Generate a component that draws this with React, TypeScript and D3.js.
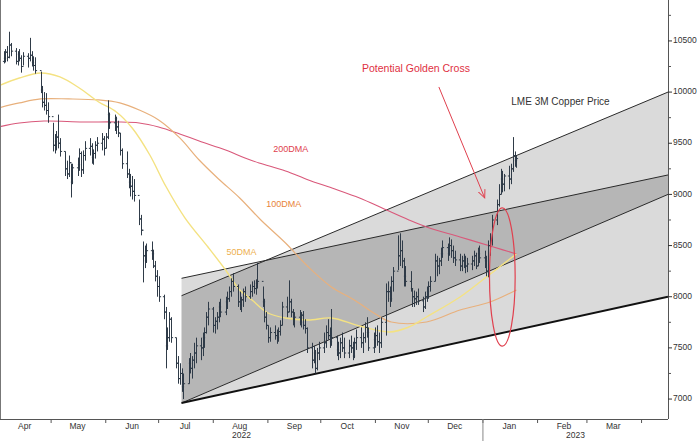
import * as d3 from "d3";

const WIDTH = 700;
const HEIGHT = 441;
const PLOT = { left: 0, right: 668, top: 0, bottom: 419 };

// daily LME 3M copper bars (weekdays from 4 Apr 2022)
const FIRST_BAR = "2022-04-04";
const highs = [
  // Apr
  10400, 10420, 10450, 10590, 10480, 10430, 10400, 10420, 10360, 10390, 10380, 10530, 10400, 10350, 10340, 10200, 10060, 10000, 9990, 9900,
  // May
  9700, 9590, 9620, 9780, 9550, 9420, 9330, 9380, 9300, 9300, 9360, 9450, 9420, 9430, 9520, 9550, 9500, 9440, 9520, 9560, 9600, 9570,
  // Jun
  9600, 9920, 9800, 9780, 9760, 9720, 9600, 9450, 9420, 9250, 9200, 9180, 9150, 8950, 8800, 8540, 8500, 8520, 8540, 8460, 8350, 8260,
  // Jul
  8200, 8020, 7900, 7700, 7850, 7800, 7600, 7420, 7350, 7300, 7250, 7400, 7450, 7420, 7550, 7600, 7600, 7650, 7700, 7850, 7950,
  // Aug
  7900, 7800, 7850, 7950, 7980, 8000, 8050, 8100, 8180, 8230, 8120, 8050, 8000, 8080, 8100, 8120, 8150, 8160, 8170, 8330, 8100, 7980, 7850,
  // Sep
  7720, 7700, 7720, 7680, 7700, 7770, 7950, 8000, 8160, 7980, 7880, 7850, 7870, 7850, 7860, 7780, 7700, 7550, 7520, 7480, 7500, 7560,
  // Oct
  7650, 7720, 7780, 7700, 7880, 7620, 7560, 7600, 7650, 7600, 7580, 7620, 7560, 7600, 7680, 7700, 7650, 7750, 7800, 7700, 7650,
  // Nov
  7700, 7720, 7650, 7800, 8130, 8150, 8100, 8200, 8290, 8600, 8620, 8550, 8380, 8300, 8250, 8080, 8060, 8050, 8080, 8000, 8050, 8100,
  // Dec
  8150, 8200, 8420, 8400, 8380, 8480, 8550, 8520, 8580, 8560, 8500, 8450, 8420, 8400, 8420, 8400, 8380, 8400, 8450, 8430, 8480, 8500,
  // Jan
  8450, 8400, 8550, 8620, 8800, 8950, 9100, 9250, 9230, 9200, 9280, 9300, 9560, 9420, 9380,
];
const lows = [
  10280, 10290, 10300, 10330, 10350, 10270, 10260, 10300, 10190, 10260, 10240, 10300, 10250, 10210, 10180, 9990, 9850, 9820, 9780, 9700,
  9420, 9400, 9430, 9450, 9370, 9180, 9150, 9170, 8970, 9100, 9180, 9230, 9170, 9200, 9330, 9380, 9300, 9290, 9350, 9420, 9430, 9380,
  9450, 9540, 9640, 9620, 9590, 9560, 9380, 9250, 9160, 9060, 8980, 8950, 8930, 8700, 8600, 8140, 8280, 8330, 8360, 8280, 8150, 8000,
  7950, 7780, 7300, 7480, 7560, 7550, 7300, 7150, 7140, 7070, 7000, 7150, 7250, 7200, 7300, 7350, 7380, 7420, 7500, 7640, 7720,
  7650, 7640, 7680, 7750, 7800, 7820, 7880, 7950, 8000, 8050, 7900, 7870, 7850, 7900, 7950, 7980, 8000, 8030, 8020, 8080, 7900, 7750, 7680,
  7550, 7560, 7580, 7540, 7560, 7620, 7720, 7800, 7850, 7800, 7720, 7700, 7720, 7700, 7680, 7640, 7450, 7300, 7350, 7250, 7280, 7380,
  7450, 7500, 7580, 7500, 7520, 7420, 7380, 7400, 7460, 7400, 7400, 7450, 7380, 7400, 7480, 7500, 7450, 7550, 7600, 7470, 7450,
  7500, 7520, 7450, 7500, 7620, 7950, 7900, 7950, 8050, 8260, 8300, 8280, 8100, 8100, 8050, 7900, 7900, 7920, 7920, 7850, 7880, 7950,
  7980, 8050, 8150, 8200, 8220, 8300, 8380, 8350, 8400, 8380, 8330, 8300, 8250, 8250, 8280, 8230, 8240, 8260, 8300, 8270, 8300, 8330,
  8280, 8200, 8190, 8400, 8500, 8700, 8880, 9000, 9020, 9030, 9050, 9100, 9220, 9270, 9260,
];
const closes = [
  10330, 10390, 10340, 10460, 10400, 10300, 10370, 10330, 10250, 10350, 10330, 10360, 10290, 10260, 10210, 10020, 9900, 9870, 9820, 9760,
  9480, 9520, 9560, 9500, 9420, 9250, 9200, 9310, 9120, 9260, 9290, 9400, 9240, 9380, 9450, 9470, 9360, 9400, 9480, 9500, 9540, 9450,
  9560, 9780, 9700, 9740, 9660, 9600, 9430, 9300, 9200, 9120, 9080, 9030, 8990, 8760, 8650, 8400, 8350, 8450, 8420, 8300, 8200, 8100,
  8000, 7850, 7520, 7600, 7780, 7600, 7350, 7200, 7250, 7120, 7150, 7350, 7300, 7380, 7450, 7520, 7500, 7600, 7650, 7800, 7880,
  7720, 7760, 7800, 7900, 7850, 7950, 7980, 8050, 8150, 8100, 7950, 7920, 7970, 8050, 8000, 8050, 8100, 8080, 8130, 8150, 7950, 7800, 7720,
  7600, 7650, 7620, 7600, 7660, 7720, 7900, 7850, 7950, 7850, 7780, 7800, 7750, 7820, 7720, 7690, 7500, 7380, 7450, 7300, 7450, 7500,
  7550, 7650, 7620, 7560, 7600, 7480, 7450, 7550, 7500, 7450, 7520, 7500, 7420, 7550, 7600, 7550, 7600, 7700, 7650, 7500, 7580,
  7620, 7560, 7550, 7750, 8050, 8050, 7980, 8150, 8250, 8400, 8450, 8350, 8200, 8150, 8080, 8000, 7980, 8000, 7960, 7900, 8000, 8050,
  8100, 8150, 8350, 8300, 8350, 8420, 8480, 8420, 8500, 8450, 8380, 8360, 8300, 8350, 8380, 8300, 8320, 8350, 8400, 8300, 8420, 8380,
  8350, 8250, 8500, 8550, 8750, 8900, 9000, 9150, 9100, 9180, 9150, 9250, 9380, 9330, 9350,
];

// moving averages, read at sample dates
const ma50Dates = ["2022-04-01", "2022-04-13", "2022-04-25", "2022-05-06", "2022-05-17", "2022-05-28", "2022-06-07", "2022-06-16", "2022-06-26", "2022-07-05", "2022-07-16", "2022-07-29", "2022-08-08", "2022-08-16", "2022-08-23", "2022-09-01", "2022-09-11", "2022-09-24", "2022-10-07", "2022-10-23", "2022-11-09", "2022-11-20", "2022-11-30", "2022-12-19", "2023-01-03", "2023-01-20"];
const ma50Values = [10060, 10138, 10187, 10148, 10040, 9903, 9806, 9649, 9385, 9082, 8769, 8486, 8261, 8066, 7968, 7841, 7792, 7772, 7792, 7714, 7655, 7704, 7802, 7997, 8193, 8418];

const ma100Dates = ["2022-04-01", "2022-04-13", "2022-04-25", "2022-05-11", "2022-05-28", "2022-06-09", "2022-06-20", "2022-07-01", "2022-07-13", "2022-07-24", "2022-08-04", "2022-08-16", "2022-08-28", "2022-09-11", "2022-09-24", "2022-10-07", "2022-10-20", "2022-11-01", "2022-11-10", "2022-11-30", "2022-12-19", "2023-01-05", "2023-01-20"];
const ma100Values = [9845, 9894, 9933, 9933, 9923, 9894, 9825, 9728, 9552, 9336, 9151, 8965, 8750, 8525, 8290, 8095, 7968, 7831, 7753, 7753, 7870, 7948, 8066];

const ma200Dates = ["2022-04-01", "2022-04-13", "2022-04-27", "2022-05-19", "2022-06-07", "2022-06-20", "2022-07-01", "2022-07-13", "2022-07-24", "2022-08-08", "2022-08-19", "2022-08-27", "2022-09-11", "2022-09-24", "2022-10-09", "2022-10-23", "2022-11-06", "2022-11-20", "2022-11-30", "2022-12-19", "2023-01-07", "2023-01-20"];
const ma200Values = [9659, 9698, 9717, 9708, 9708, 9698, 9659, 9591, 9522, 9434, 9356, 9307, 9229, 9141, 9053, 8965, 8857, 8750, 8681, 8584, 8486, 8418];

// trend channel drawn from the July low
const channelDates = ["2022-07-14", "2023-04-16"];
const lowerLine = [6961, 8000];
const midLine = [6961, 9000];
const upperLine = [8010, 10000];
const topLine = [8180, 9190];

const yTicks = [7000, 7500, 8000, 8500, 9000, 9500, 10000, 10500];
const X_DOMAIN = ["2022-04-02", "2023-04-16"];
const Y_DOMAIN = [6805, 10900];

const parse = (s: string) => {
  const [yy, mm, dd] = s.split("-").map(Number);
  return new Date(yy, mm - 1, dd);
};

const barDates = (() => {
  const out: Date[] = [];
  let d = parse(FIRST_BAR);
  while (out.length < highs.length) {
    const wd = d.getDay();
    if (wd !== 0 && wd !== 6) out.push(d);
    d = d3.timeDay.offset(d, 1);
  }
  return out;
})();

export default function App() {
  const x = d3.scaleTime().domain(X_DOMAIN.map(parse)).range([PLOT.left, PLOT.right]);
  const y = d3.scaleLinear().domain(Y_DOMAIN).range([PLOT.bottom, PLOT.top]);

  const line = d3
    .line<[Date, number]>()
    .x((d) => x(d[0]))
    .y((d) => y(d[1]))
    .curve(d3.curveCatmullRom);

  const maPath = (dates: string[], vals: number[]) =>
    line(dates.map((s, i) => [parse(s), vals[i]] as [Date, number])) || "";

  const c0 = parse(channelDates[0]);
  const c1 = parse(channelDates[1]);
  const pt = (d: Date, v: number) => `${x(d)},${y(v)}`;

  const lightA = [pt(c0, lowerLine[0]), pt(c0, topLine[0]), pt(c1, topLine[1]), pt(c1, lowerLine[1])].join(" ");
  const lightB = [pt(c0, lowerLine[0]), pt(c0, upperLine[0]), pt(c1, upperLine[1]), pt(c1, lowerLine[1])].join(" ");
  const darkPoly = [pt(c0, midLine[0]), pt(c0, upperLine[0]), pt(c1, upperLine[1]), pt(c1, midLine[1])].join(" ");
  const darkClip = [pt(c0, midLine[0]), pt(c0, topLine[0]), pt(c1, topLine[1]), pt(c1, midLine[1])].join(" ");

  const months = d3.timeMonth.range(parse("2022-04-01"), parse("2023-04-02"));
  const minorTicks = d3.range(7250, 10900, 500);
  const yearSplit = parse("2023-01-01");

  // annotation anchors
  const ellC = parse("2023-01-12");
  const ellRx = x(d3.timeDay.offset(ellC, 7)) - x(ellC) + 0.5;
  const ellRy = y(8193 - 675) - y(8193);
  const ar0 = [x(parse("2022-12-07")), y(10050)];
  const ar1 = [x(parse("2023-01-02")), y(8965)];

  return (
    <svg
      width={WIDTH}
      height={HEIGHT}
      style={{ position: "absolute", left: 0, top: 0, background: "#fff" }}
      fontFamily="Liberation Sans, Arial, sans-serif"
    >
      <defs>
        <clipPath id="darkClip">
          <polygon points={darkClip} />
        </clipPath>
        <clipPath id="plotClip">
          <rect x={PLOT.left} y={PLOT.top} width={PLOT.right - PLOT.left} height={PLOT.bottom - PLOT.top} />
        </clipPath>
        <marker id="arrow" viewBox="0 0 10 10" refX="9" refY="5" markerWidth="9" markerHeight="9" orient="auto">
          <path d="M0,1 L9,5 L0,9" fill="none" stroke="#e0404e" strokeWidth="1.1" />
        </marker>
      </defs>

      <g clipPath="url(#plotClip)">
        {/* channel fills */}
        <polygon points={lightA} fill="#dadada" />
        <polygon points={lightB} fill="#dadada" />
        <polygon points={darkPoly} fill="#b6b6b6" clipPath="url(#darkClip)" />

        {/* channel lines */}
        <line x1={x(c0)} y1={y(topLine[0])} x2={x(c1)} y2={y(topLine[1])} stroke="#2a2a2a" strokeWidth={1} />
        <line x1={x(c0)} y1={y(upperLine[0])} x2={x(c1)} y2={y(upperLine[1])} stroke="#2a2a2a" strokeWidth={1} />
        <line x1={x(c0)} y1={y(midLine[0])} x2={x(c1)} y2={y(midLine[1])} stroke="#2a2a2a" strokeWidth={1} />
        <line x1={x(c0)} y1={y(lowerLine[0])} x2={x(c1)} y2={y(lowerLine[1])} stroke="#111" strokeWidth={2} />

        {/* moving averages */}
        <path d={maPath(ma200Dates, ma200Values)} fill="none" stroke="#d9587a" strokeWidth={1.1} />
        <path d={maPath(ma100Dates, ma100Values)} fill="none" stroke="#e8b07c" strokeWidth={1.2} />
        <path d={maPath(ma50Dates, ma50Values)} fill="none" stroke="#f4e282" strokeWidth={1.4} />

        {/* OHLC bars */}
        {barDates.map((d, i) => {
          const bx = Math.round(x(d)) + 0.5;
          const open = i === 0 ? 10300 : closes[i - 1];
          return (
            <g key={i} stroke="#2f3b48" strokeWidth={1}>
              <line x1={bx} x2={bx} y1={y(highs[i])} y2={y(lows[i])} />
              <line x1={bx - 1.6} x2={bx} y1={y(open)} y2={y(open)} />
              <line x1={bx} x2={bx + 1.6} y1={y(closes[i])} y2={y(closes[i])} />
            </g>
          );
        })}

        {/* annotations */}
        <ellipse cx={x(ellC)} cy={y(8193)} rx={ellRx} ry={ellRy} fill="none" stroke="#e0404e" strokeWidth={1.2} />
        <line x1={ar0[0]} y1={ar0[1]} x2={ar1[0]} y2={ar1[1]} stroke="#e0404e" strokeWidth={1} markerEnd="url(#arrow)" />
        <text x={x(parse("2022-11-24"))} y={y(10226)} textAnchor="middle" dominantBaseline="middle" fontSize={10.5} fill="#e0303f">
          Potential Golden Cross
        </text>
        <text x={x(parse("2023-02-14"))} y={y(9903)} textAnchor="middle" dominantBaseline="middle" fontSize={10} fill="#333">
          LME 3M Copper Price
        </text>
        <text x={x(parse("2022-09-14"))} y={y(9434)} textAnchor="middle" dominantBaseline="middle" fontSize={9} fill="#e0404e">
          200DMA
        </text>
        <text x={x(parse("2022-09-10"))} y={y(8897)} textAnchor="middle" dominantBaseline="middle" fontSize={9} fill="#e8843a">
          100DMA
        </text>
        <text x={x(parse("2022-08-17"))} y={y(8427)} textAnchor="middle" dominantBaseline="middle" fontSize={9} fill="#eeb050">
          50DMA
        </text>
      </g>

      {/* frame and axes */}
      <line x1={0.5} x2={0.5} y1={PLOT.top} y2={PLOT.bottom} stroke="#777" />
      <line x1={PLOT.left} x2={PLOT.right} y1={PLOT.bottom + 0.5} y2={PLOT.bottom + 0.5} stroke="#555" />
      <line x1={PLOT.right + 0.5} x2={PLOT.right + 0.5} y1={PLOT.top} y2={PLOT.bottom} stroke="#555" />

      {yTicks.map((t) => (
        <g key={t}>
          <line x1={PLOT.right} x2={PLOT.right + 4} y1={y(t)} y2={y(t)} stroke="#333" />
          <text x={PLOT.right + 5} y={y(t)} dominantBaseline="middle" fontSize={8.5} fill="#333">
            {t}
          </text>
        </g>
      ))}
      {minorTicks.map((t) => (
        <line key={t} x1={PLOT.right} x2={PLOT.right + 3} y1={y(t)} y2={y(t)} stroke="#555" />
      ))}

      {months.map((m, i) => {
        const mx = x(m);
        const mid = x(d3.timeDay.offset(m, 15));
        return (
          <g key={i}>
            {mx > 1 && mx < PLOT.right && <line x1={mx} x2={mx} y1={PLOT.bottom} y2={PLOT.bottom + 4} stroke="#555" />}
            {mid < PLOT.right - 20 && (
              <text x={mid} y={PLOT.bottom + 8} textAnchor="middle" dominantBaseline="middle" fontSize={8.5} fill="#333">
                {d3.timeFormat("%b")(m)}
              </text>
            )}
          </g>
        );
      })}
      <line x1={x(yearSplit)} x2={x(yearSplit)} y1={PLOT.bottom} y2={HEIGHT} stroke="#888" />
      <text x={(PLOT.left + x(yearSplit)) / 2} y={PLOT.bottom + 17} textAnchor="middle" dominantBaseline="middle" fontSize={8.5} fill="#333">
        2022
      </text>
      <text x={(x(yearSplit) + PLOT.right) / 2} y={PLOT.bottom + 17} textAnchor="middle" dominantBaseline="middle" fontSize={8.5} fill="#333">
        2023
      </text>
    </svg>
  );
}
